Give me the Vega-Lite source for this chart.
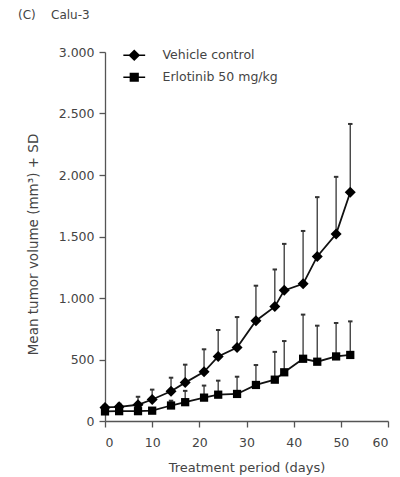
{
  "$schema": "https://vega.github.io/schema/vega-lite/v6.json",
  "width": 283,
  "height": 369,
  "autosize": "none",
  "padding": {"left": 105, "top": 52, "right": 12, "bottom": 56},
  "background": "white",
  "title": {"text": "(C)\u00a0\u00a0\u00a0\u00a0Calu-3", "anchor": "start", "frame": "group", "dx": -87, "offset": 24, "fontSize": 12, "fontWeight": "normal", "font": "DejaVu Sans", "color": "#444"},
  "config": {
    "view": {"stroke": null},
    "font": "DejaVu Sans",
    "axis": {"labelFont": "DejaVu Sans", "titleFont": "DejaVu Sans", "labelFontSize": 12.5, "titleFontSize": 13, "labelColor": "#444", "titleColor": "#444", "titleFontWeight": "normal", "domainColor": "#555", "tickColor": "#555", "domainWidth": 1.3, "tickWidth": 1.3, "grid": false, "tickSize": 6}
  },
  "data": {"values": [
    {"group": "Vehicle control", "day": 0, "mean": 110, "upper": 130},
    {"group": "Vehicle control", "day": 3, "mean": 115, "upper": 140},
    {"group": "Vehicle control", "day": 7, "mean": 132, "upper": 197},
    {"group": "Vehicle control", "day": 10, "mean": 175, "upper": 255},
    {"group": "Vehicle control", "day": 14, "mean": 242, "upper": 352},
    {"group": "Vehicle control", "day": 17, "mean": 312, "upper": 458},
    {"group": "Vehicle control", "day": 21, "mean": 400, "upper": 583},
    {"group": "Vehicle control", "day": 24, "mean": 525, "upper": 740},
    {"group": "Vehicle control", "day": 28, "mean": 597, "upper": 845},
    {"group": "Vehicle control", "day": 32, "mean": 815, "upper": 1100},
    {"group": "Vehicle control", "day": 36, "mean": 930, "upper": 1232},
    {"group": "Vehicle control", "day": 38, "mean": 1062, "upper": 1440},
    {"group": "Vehicle control", "day": 42, "mean": 1115, "upper": 1545},
    {"group": "Vehicle control", "day": 45, "mean": 1338, "upper": 1820},
    {"group": "Vehicle control", "day": 49, "mean": 1520, "upper": 1985},
    {"group": "Vehicle control", "day": 52, "mean": 1860, "upper": 2415},
    {"group": "Erlotinib 50 mg/kg", "day": 0, "mean": 78, "upper": 90},
    {"group": "Erlotinib 50 mg/kg", "day": 3, "mean": 80, "upper": 92},
    {"group": "Erlotinib 50 mg/kg", "day": 7, "mean": 80, "upper": 100},
    {"group": "Erlotinib 50 mg/kg", "day": 10, "mean": 84, "upper": 105},
    {"group": "Erlotinib 50 mg/kg", "day": 14, "mean": 126, "upper": 165},
    {"group": "Erlotinib 50 mg/kg", "day": 17, "mean": 153, "upper": 245},
    {"group": "Erlotinib 50 mg/kg", "day": 21, "mean": 190, "upper": 288},
    {"group": "Erlotinib 50 mg/kg", "day": 24, "mean": 214, "upper": 328},
    {"group": "Erlotinib 50 mg/kg", "day": 28, "mean": 220, "upper": 360},
    {"group": "Erlotinib 50 mg/kg", "day": 32, "mean": 293, "upper": 455},
    {"group": "Erlotinib 50 mg/kg", "day": 36, "mean": 336, "upper": 562},
    {"group": "Erlotinib 50 mg/kg", "day": 38, "mean": 396, "upper": 650},
    {"group": "Erlotinib 50 mg/kg", "day": 42, "mean": 506, "upper": 865},
    {"group": "Erlotinib 50 mg/kg", "day": 45, "mean": 482, "upper": 775},
    {"group": "Erlotinib 50 mg/kg", "day": 49, "mean": 525, "upper": 797},
    {"group": "Erlotinib 50 mg/kg", "day": 52, "mean": 537, "upper": 810}
  ]},
  "encoding": {
    "x": {"field": "day", "type": "quantitative", "scale": {"domain": [0, 60], "nice": false}, "axis": {"values": [0, 10, 20, 30, 40, 50, 60], "title": "Treatment period (days)", "labelPadding": 9, "titlePadding": 13}}
  },
  "resolve": {"scale": {"shape": "independent"}, "legend": {"shape": "independent"}},
  "layer": [
    {
      "mark": {"type": "rule", "color": "#444", "strokeWidth": 1.4},
      "encoding": {
        "y": {"field": "mean", "type": "quantitative", "scale": {"domain": [0, 3000], "nice": false}, "axis": {"values": [0, 500, 1000, 1500, 2000, 2500, 3000], "labelExpr": "replace(format(datum.value, ','), ',', '.')", "title": "Mean tumor volume (mm³) + SD", "titleFontSize": 13.5, "labelPadding": 5, "titlePadding": 18, "titleY": 192}},
        "y2": {"field": "upper"},
        "detail": {"field": "group"}
      }
    },
    {
      "mark": {"type": "point", "shape": "M-1,0L1,0", "filled": false, "color": "#333", "strokeWidth": 2, "size": 20, "opacity": 1},
      "encoding": {
        "y": {"field": "upper", "type": "quantitative"}
      }
    },
    {
      "mark": {"type": "line", "color": "#111", "strokeWidth": 1.8},
      "encoding": {
        "y": {"field": "mean", "type": "quantitative"},
        "detail": {"field": "group"}
      }
    },
    {
      "mark": {"type": "point", "filled": true, "color": "#000", "opacity": 1, "size": 121},
      "encoding": {
        "y": {"field": "mean", "type": "quantitative"},
        "shape": {
          "field": "group", "type": "nominal",
          "scale": {"domain": ["Vehicle control", "Erlotinib 50 mg/kg"], "range": ["M-1,0L0,-1L1,0L0,1Z", "M-0.75,-0.75H0.75V0.75H-0.75Z"]},
          "legend": null
        }
      }
    },
    {
      "mark": {"type": "point", "filled": false, "color": "#000", "strokeWidth": 1.6, "opacity": 0, "size": 90},
      "encoding": {
        "y": {"field": "mean", "type": "quantitative"},
        "shape": {
          "field": "group", "type": "nominal",
          "scale": {"domain": ["Vehicle control", "Erlotinib 50 mg/kg"], "range": ["M-2.3,0H2.3M0,-1V1M-1,0L0,-1L1,0L0,1ZM-0.7,0L0,-0.7L0.7,0L0,0.7ZM-0.4,0L0,-0.4L0.4,0L0,0.4ZM-0.15,0L0,-0.15L0.15,0L0,0.15Z", "M-2.3,0H2.3M0,-0.8V0.8M-0.8,-0.8H0.8V0.8H-0.8ZM-0.5,-0.5H0.5V0.5H-0.5ZM-0.2,-0.2H0.2V0.2H-0.2Z"]},
          "legend": {
            "title": null, "orient": "none", "legendX": 23, "legendY": -3,
            "labelFont": "DejaVu Sans", "labelFontSize": 12.5, "labelColor": "#444",
            "symbolSize": 90, "symbolFillColor": "#000", "symbolStrokeColor": "#000", "symbolStrokeWidth": 1.6, "symbolOpacity": 1,
            "rowPadding": 6, "labelOffset": 22
          }
        }
      }
    }
  ]
}
